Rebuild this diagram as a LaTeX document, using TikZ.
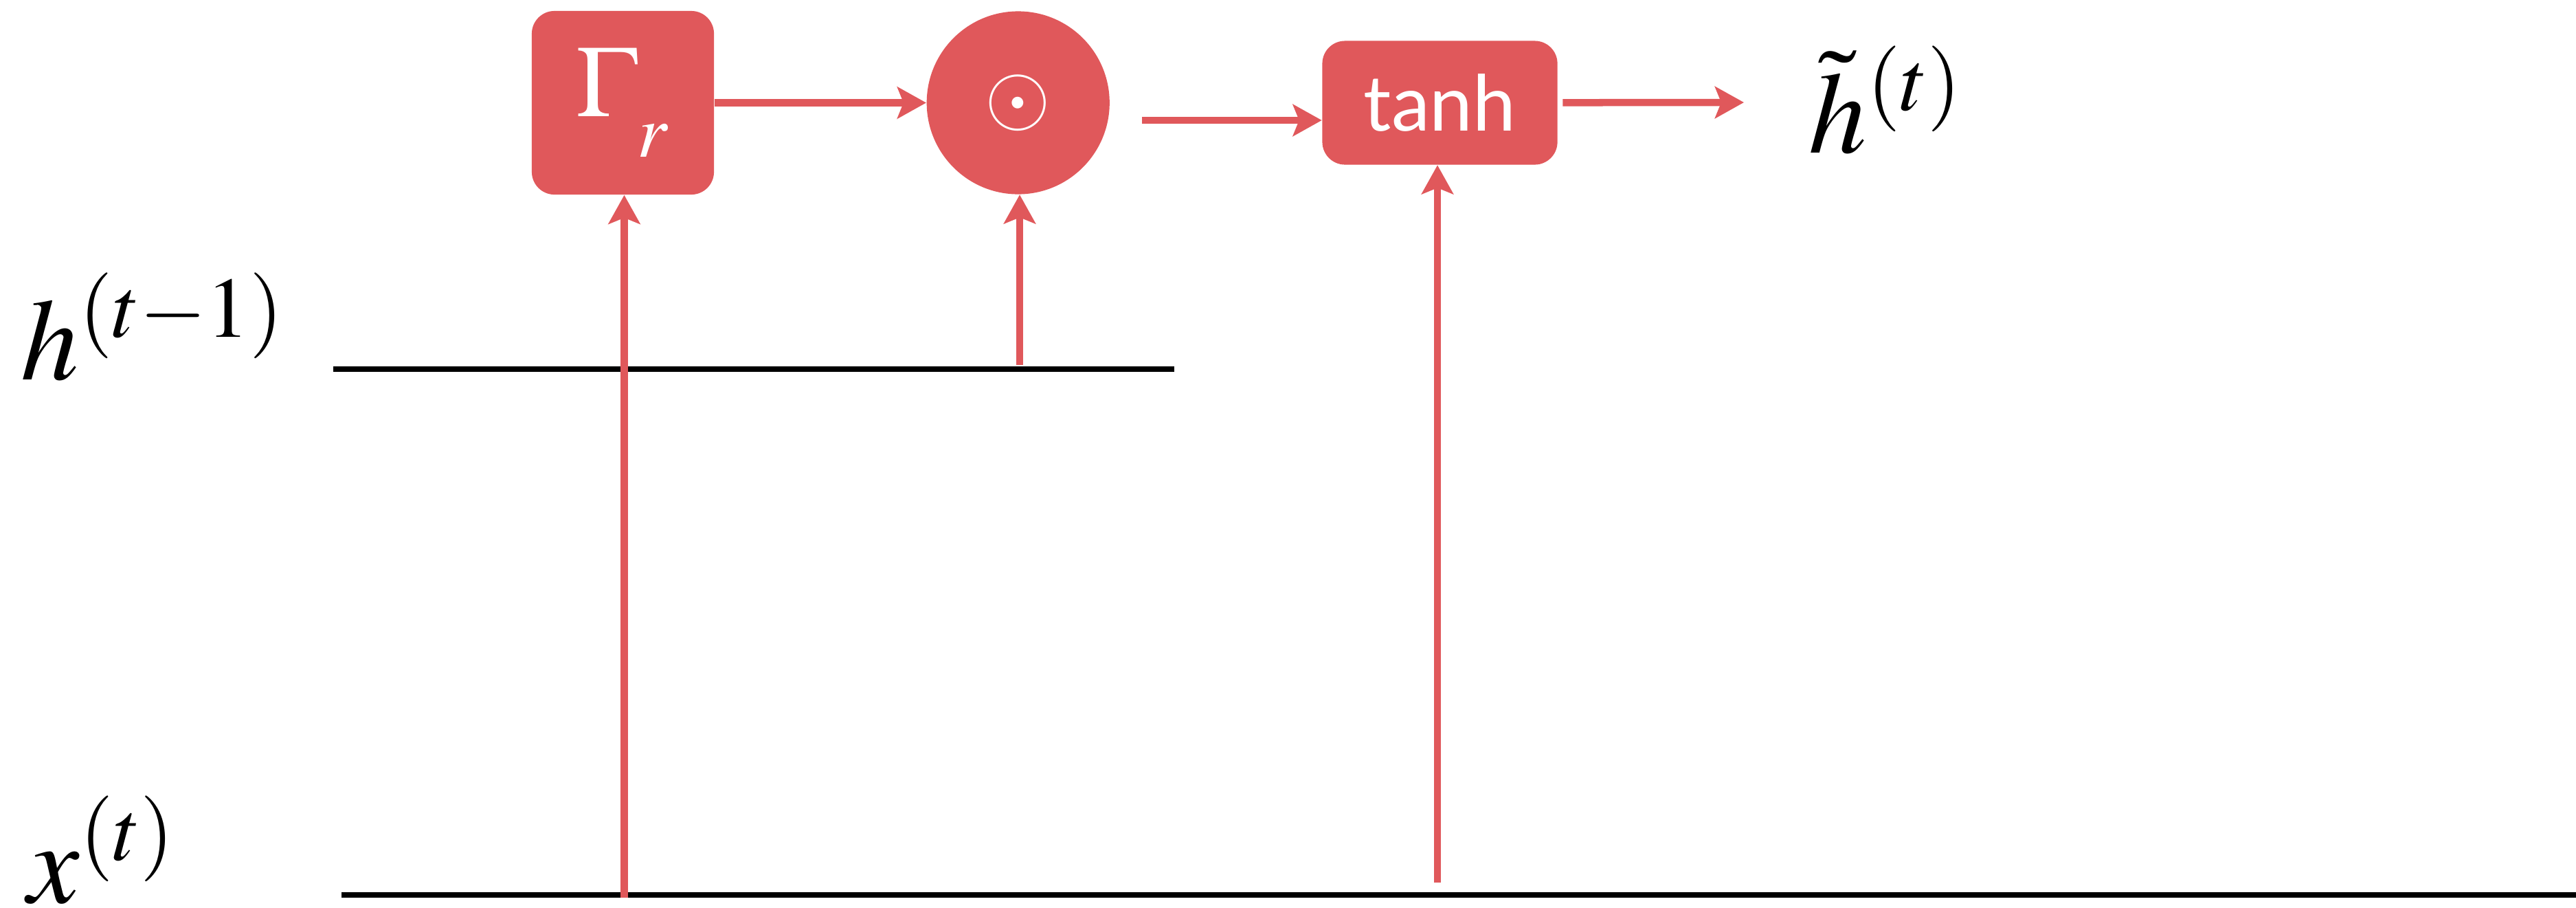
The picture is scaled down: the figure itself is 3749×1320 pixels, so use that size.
\documentclass[tikz,border=0pt]{standalone}
\usepackage{mathptmx}
\usepackage{fontspec}
\newfontfamily\tanhfont{Lato}
\usetikzlibrary{arrows.meta,positioning}

\definecolor{gatered}{RGB}{224,88,91}

\tikzset{
  gatebox/.style={rectangle, rounded corners=0.33cm, fill=gatered, text=white, inner sep=0pt},
  redarrow/.style={draw=gatered, line width=0.105cm, -{Stealth[length=0.42cm, width=0.46cm, inset=0.09cm]}},
  wire/.style={draw=black, line width=0.08cm},
  varlabel/.style={inner sep=0pt, font=\fontsize{48}{56}\selectfont}
}

\begin{document}
\begin{tikzpicture}[x=0.01cm, y=-0.01cm, node distance=3.08cm]
\useasboundingbox (0,0) rectangle (3749,1320);

% reset gate, product and tanh
\node (gate) [gatebox, minimum width=2.65cm, minimum height=2.67cm, font=\fontsize{42}{50}\selectfont] at (906.5,149.5) {$\Gamma_{\lower0.25em\hbox{$\scriptstyle r$}}$};
\node (odot) [gatebox, circle, minimum size=2.66cm, font=\fontsize{35}{42}\selectfont, right=of gate] {$\odot$};
\node (tanh) [gatebox, minimum width=3.42cm, minimum height=1.8cm, font=\tanhfont\fontsize{32}{38}\selectfont, right=of odot] {tanh};

% inputs and output
\node (hprev) [varlabel, anchor=base west] at (30,552) {$h^{(t-1)}$};
\node (xcur) [varlabel, anchor=base west] at (40,1313) {$x^{(t)}$};
\node (hcand) [varlabel, anchor=base west] at (2632,222) {$\tilde{h}^{(t)}$};

\coordinate (hwire l) at (485,537);
\coordinate (hwire r) at (1709,537);
\coordinate (xwire l) at (497,1302);
\coordinate (xwire r) at (3749,1302);
\draw[wire] (hwire l) -- (hwire r);
\draw[wire] (xwire l) -- (xwire r);

\coordinate (xin gate) at (908.5,1306);
\coordinate (hin odot) at (1484,531);
\coordinate (xin tanh) at (2092,1284);
\coordinate (odot out) at (1662,175);
\coordinate (hout) at (2538,149);

\draw[redarrow] (gate) -- (odot);
\draw[redarrow] (odot out) -- (odot out -| tanh.west);
\draw[redarrow, shorten <=0.07cm] (tanh) -- (hout);
\draw[redarrow] (xin gate) -- (xin gate |- gate.south);
\draw[redarrow] (hin odot) -- (hin odot |- odot.south);
\draw[redarrow] (xin tanh) -- (xin tanh |- tanh.south);

\end{tikzpicture}
\end{document}
